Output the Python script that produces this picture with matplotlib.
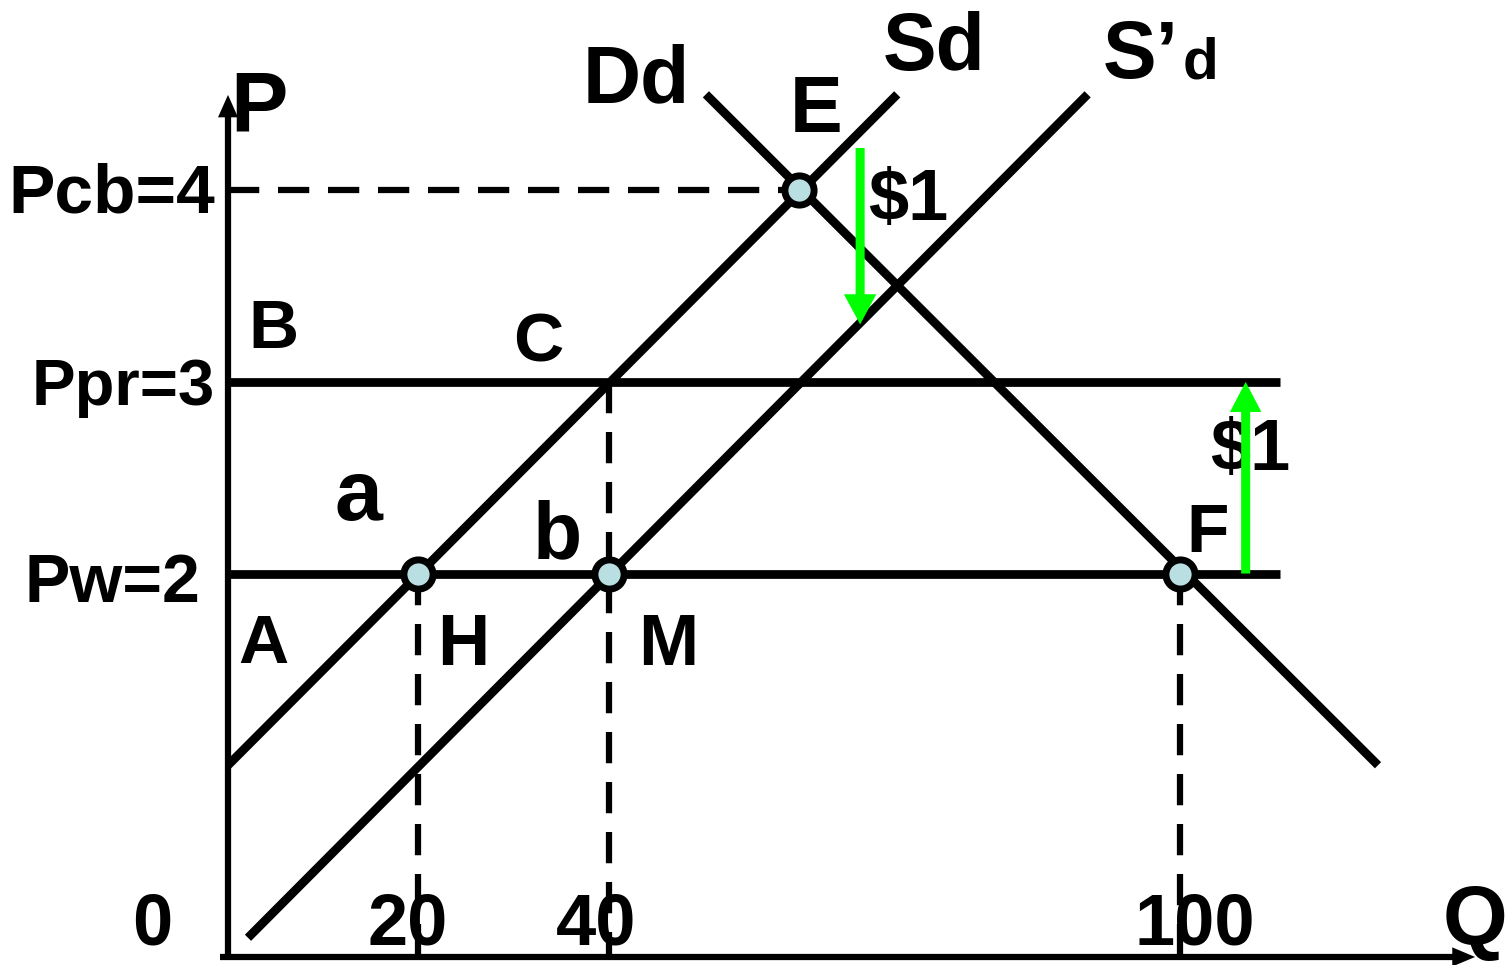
import matplotlib
matplotlib.use("Agg")
import matplotlib.pyplot as plt

plt.rcParams['font.family'] = ['Liberation Sans', 'DejaVu Sans']
plt.rcParams['font.weight'] = 'bold'

# curves (endpoints), Q on x, P on y
sd_q = [0.0, 70.3]
sd_p = [1.0, 4.5]
sd2_q = [2.1, 90.3]
sd2_p = [0.1, 4.5]
dd_q = [50.2, 120.8]
dd_p = [4.5, 1.0]

# price levels
p_cb = 4
p_pr = 3
p_w = 2
q_line_end = 110.5

# marked points
pt_q = [20, 40, 100, 60]
pt_p = [2, 2, 2, 4]

# dashed guides: (q, top price)
guides_q = [20, 40, 100]
guides_top = [2, 3, 2]

# $1 arrows
arrow_down = (66.4, 4.22, 3.30)
arrow_up = (106.9, 2.0, 3.0)

fig = plt.figure(figsize=(15.05, 9.65), dpi=100)
ax = fig.add_axes([0, 0, 1, 1])
ax.set_xlim(-23.95, 134.14)
ax.set_ylim(-0.042, 4.992)
ax.axis('off')

lw = 6.3
dash = (0, (5, 3))

# axes with arrow heads
ax.plot([0, 0], [-0.005, 4.42], color='k', lw=4.5, solid_capstyle='butt')
ax.plot([-0.8, 129], [0, 0], color='k', lw=4.5, solid_capstyle='butt')
ax.arrow(0, 4.38, 0, 0.117, width=0.0, head_width=2.1, head_length=0.117,
         length_includes_head=True, color='k', lw=0)
ax.arrow(128.6, 0, 2.4, 0, width=0.0, head_width=0.1, head_length=2.4,
         length_includes_head=True, color='k', lw=0)

# dashed lines
ax.plot([0, pt_q[3]], [p_cb, p_cb], color='k', lw=4.5, linestyle=dash)
for q, top in zip(guides_q, guides_top):
    ax.plot([q, q], [top, 0], color='k', lw=4.5, linestyle=dash)

# horizontal price lines
ax.plot([0, q_line_end], [p_pr, p_pr], color='k', lw=lw, solid_capstyle='butt')
ax.plot([0, q_line_end], [p_w, p_w], color='k', lw=lw, solid_capstyle='butt')

# supply / demand
ax.plot(sd_q, sd_p, color='k', lw=lw, solid_capstyle='butt')
ax.plot(sd2_q, sd2_p, color='k', lw=lw, solid_capstyle='butt')
ax.plot(dd_q, dd_p, color='k', lw=lw, solid_capstyle='butt')

ax.plot(pt_q, pt_p, 'o', ms=21, mfc='#b9dfe3', mec='k', mew=5, zorder=5)

# green $1 arrows
green = '#00ff00'
q, y0, y1 = arrow_down
ax.arrow(q, y0, 0, y1 - y0, width=0.95, head_width=3.4, head_length=0.157,
         length_includes_head=True, color=green, lw=0, zorder=6)
q, y0, y1 = arrow_up
ax.arrow(q, y0, 0, y1 - y0, width=0.95, head_width=3.3, head_length=0.157,
         length_includes_head=True, color=green, lw=0, zorder=6)

def label(x, y, s, size, ha='left'):
    ax.text(x, y, s, fontsize=size, fontweight='bold', ha=ha, va='baseline')

label(-1.37, 3.886, 'Pcb=4', 50, ha='right')
label(-1.37, 2.880, 'Ppr=3', 47, ha='right')
label(-2.94, 1.852, 'Pw=2', 49, ha='right')

label(0.2, 4.304, 'P', 62)
label(131.0, 0.063, 'Q', 60, ha='center')
label(-8.0, 0.063, '0', 52, ha='center')
label(18.9, 0.063, '20', 52, ha='center')
label(38.7, 0.063, '40', 52, ha='center')
label(101.6, 0.063, '100', 52, ha='center')

label(2.1, 3.177, 'B', 50)
label(29.9, 3.104, 'C', 50)
label(11.2, 2.280, 'a', 62)
label(32.0, 2.081, 'b', 58)
label(1.05, 1.534, 'A', 50)
label(21.95, 1.523, 'H', 52)
label(43.1, 1.523, 'M', 52)
label(100.7, 2.113, 'F', 50)
label(59.0, 4.304, 'E', 57)
label(67.2, 3.845, '$1', 52)
label(103.2, 2.540, '$1', 52)
label(37.3, 4.460, 'Dd', 58)
label(68.8, 4.627, 'Sd', 58)
ax.text(91.9, 4.585, 'S\u2019', fontsize=58, fontweight='bold', ha='left', va='baseline')
ax.text(100.3, 4.585, 'd', fontsize=42, fontweight='bold', ha='left', va='baseline')

fig.savefig('out.png', dpi=100)
